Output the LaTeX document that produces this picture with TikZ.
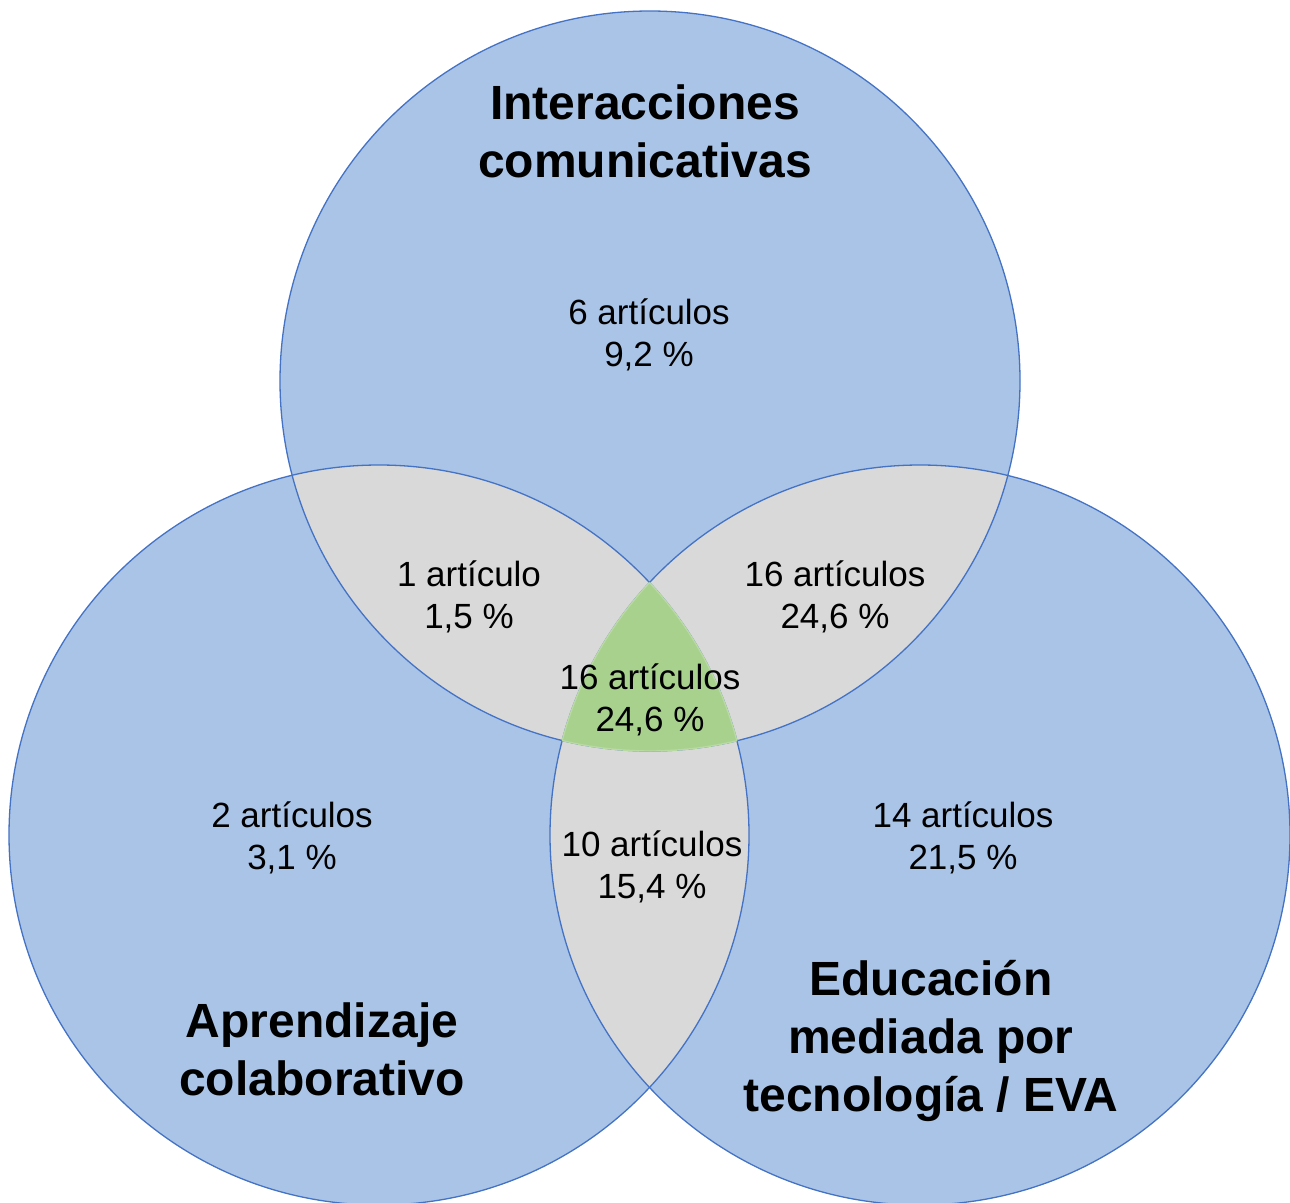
\documentclass[tikz,border=0pt]{standalone}
\usepackage{fontspec}
\setmainfont{Liberation Sans}
\definecolor{cblue}{HTML}{A9C4E6}
\definecolor{cline}{HTML}{4472C4}
\definecolor{cgray}{HTML}{D9D9D9}
\definecolor{cgreen}{HTML}{A9D18E}
\begin{document}
\begin{tikzpicture}[x=1pt,y=-1pt,
  lbl/.style={align=center,font=\fontsize{35}{42}\selectfont,inner sep=0pt},
  ttl/.style={align=center,font=\fontsize{48}{58}\selectfont\bfseries,inner sep=0pt}]
\useasboundingbox (0,0) rectangle (1290,1202);
\coordinate (T) at (650,381);
\coordinate (L) at (379,835);
\coordinate (R) at (920,835);
\def\rad{370pt}
% base fills
\fill[cblue] (T) circle (\rad);
\fill[cblue] (L) circle (\rad);
\fill[cblue] (R) circle (\rad);
% pairwise lenses
\begin{scope}\clip (T) circle (\rad); \fill[cgray] (L) circle (\rad); \end{scope}
\begin{scope}\clip (T) circle (\rad); \fill[cgray] (R) circle (\rad); \end{scope}
\begin{scope}\clip (L) circle (\rad); \fill[cgray] (R) circle (\rad); \end{scope}
% outlines
\draw[cline,line width=1.3pt] (T) circle (\rad);
\draw[cline,line width=1.3pt] (L) circle (\rad);
\draw[cline,line width=1.3pt] (R) circle (\rad);
% central triangle
\begin{scope}
\clip (T) circle (\rad);
\clip (L) circle (\rad);
\fill[cgreen] (R) circle (\rad);
\draw[cgreen!80!white,line width=1.4pt] (R) circle (\rad);
\end{scope}
\begin{scope}
\clip (T) circle (\rad);
\clip (R) circle (\rad);
\draw[cgreen!80!white,line width=1.4pt] (L) circle (\rad);
\end{scope}
\begin{scope}
\clip (L) circle (\rad);
\clip (R) circle (\rad);
\draw[cgreen!80!white,line width=1.4pt] (T) circle (\rad);
\end{scope}
% titles
\node[ttl] (tT) at (645,131) {Interacciones\\comunicativas};
\node[ttl] (tL) at (322,1049) {Aprendizaje\\colaborativo};
\node[ttl] (tR) at (931,1041) {Educación\\mediada por\\tecnología / EVA};
% counts
\node[lbl] (nT) at (649,335) {6 artículos\\9,2 \%};
\node[lbl] (nTL) at (469,597) {1 artículo\\1,5 \%};
\node[lbl] (nTR) at (835,597) {16 artículos\\24,6 \%};
\node[lbl] (nC) at (650,700) {16 artículos\\24,6 \%};
\node[lbl] (nL) at (292,838) {2 artículos\\3,1 \%};
\node[lbl] (nLR) at (652,867) {10 artículos\\15,4 \%};
\node[lbl] (nR) at (963,838) {14 artículos\\21,5 \%};
\end{tikzpicture}
\end{document}
